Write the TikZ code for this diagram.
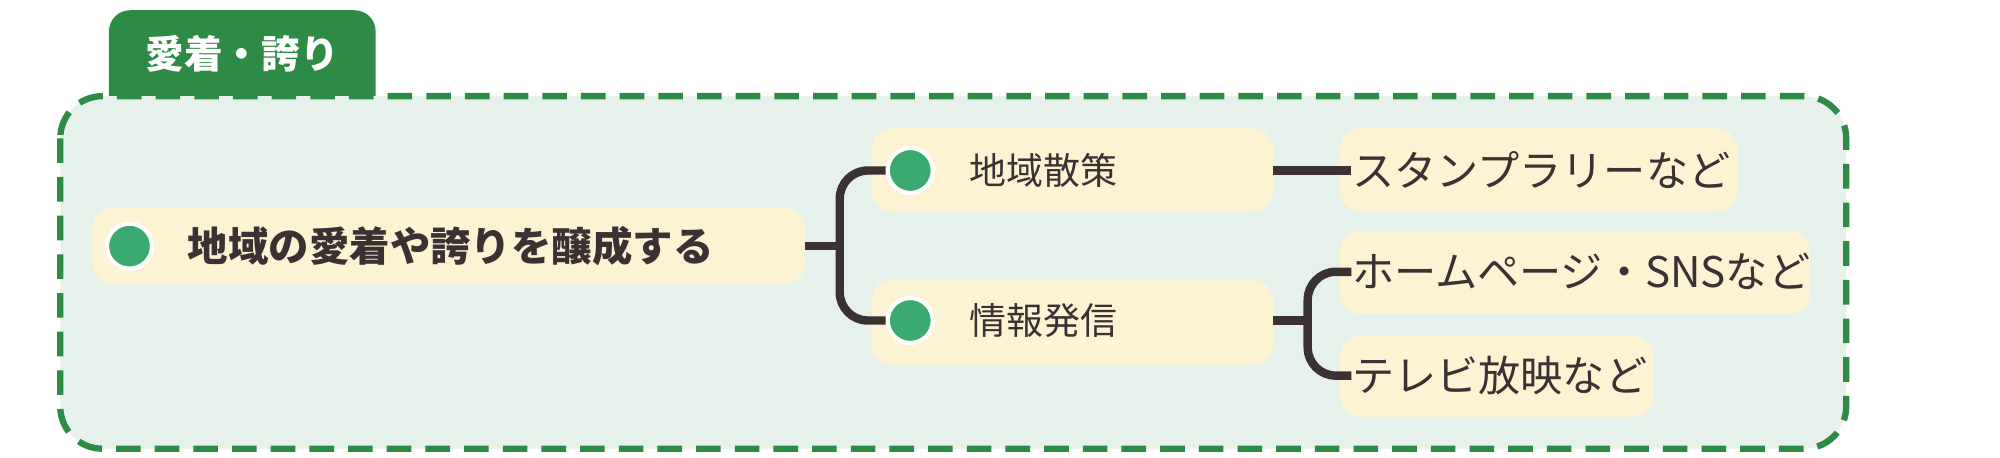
\documentclass[tikz,border=0pt]{standalone}
\usepackage{fontspec}
\setmainfont{Noto Sans CJK JP}
\usetikzlibrary{positioning}
\definecolor{tabgreen}{HTML}{2E8B45}
\definecolor{dotgreen}{HTML}{3AAA70}
\definecolor{panelbg}{HTML}{E6F1EC}
\definecolor{itembg}{HTML}{FCF3D3}
\definecolor{linkdark}{HTML}{3A3232}
\tikzset{
     item/.style={fill=itembg, rounded corners=6pt, inner sep=0pt, anchor=west},
     itemtext/.style={anchor=west, text=linkdark, inner sep=0pt},
     dot/.style={circle, fill=dotgreen, draw=white, line width=1.2pt, minimum size=0.45cm, inner sep=0pt},
     link/.style={draw=linkdark, line width=2.4pt, rounded corners=8pt},
    }
\begin{document}
\begin{tikzpicture}[x=0.01282cm, y=-0.01282cm]
            \useasboundingbox (0,0) rectangle (1560,356.5);
            % tab and panel
            \fill[tabgreen] (85,75) -- (85,20) [rounded corners=6pt] -- (85,8) -- (293,8) [sharp corners] -- (293,75) -- cycle;
            \node[text=white, font=\fontsize{11}{13}\selectfont\bfseries] (tab) at (189,42) {愛着・誇り};
            \draw[tabgreen, fill=panelbg, line width=1.8pt, dash pattern=on 7pt off 4pt, rounded corners=12pt]
                  (47,75) rectangle (1440,350);

            % boxes
            \fill[itembg, rounded corners=6pt] (72,162) rectangle (628,222);
            \fill[itembg, rounded corners=6pt] (680,100) rectangle (993,165);
            \fill[itembg, rounded corners=6pt] (680,218) rectangle (993,285);
            \fill[itembg, rounded corners=6pt] (1045,100) rectangle (1355,165);
            \fill[itembg, rounded corners=6pt] (1045,180) rectangle (1412,245);
            \fill[itembg, rounded corners=6pt] (1045,262) rectangle (1290,325);

            % dots
            \node[dot] (d0) at (101,192) {};
            \node[dot] (d1) at (710,133) {};
            \node[dot] (d2) at (710,250) {};

            % texts
            \node[itemtext, font=\fontsize{11.5}{13}\selectfont\bfseries] (root) at (146,192) {地域の愛着や誇りを醸成する};
            \node[itemtext, font=\fontsize{10.5}{12}\selectfont] (walk) at (756,133) {地域散策};
            \node[itemtext, font=\fontsize{10.5}{12}\selectfont] (info) at (756,250) {情報発信};
            \node[itemtext, font=\fontsize{12}{13}\selectfont] (stamp) at (1054,133) {スタンプラリーなど};
            \node[itemtext, font=\fontsize{12}{13}\selectfont] (web) at (1054,212) {ホームページ・SNSなど};
            \node[itemtext, font=\fontsize{12}{13}\selectfont] (tv) at (1054,293) {テレビ放映など};

            % connector anchors
            \coordinate (r0) at (628,192);
            \coordinate (r1) at (993,133);
            \coordinate (r2) at (993,250);
            \coordinate (j0) at (655,192);
            \coordinate (j2) at (1020,250);

            \draw[link] (r0) -- (j0);
            \draw[link] (d1.west) -- (d1.west -| j0) -- (d2.west -| j0) -- (d2.west);
            \draw[link] (r1) -- (stamp.west);
            \draw[link] (r2) -- (j2);
            \draw[link] (web.west) -- (web.west -| j2) -- (tv.west -| j2) -- (tv.west);
\end{tikzpicture}
\end{document}
